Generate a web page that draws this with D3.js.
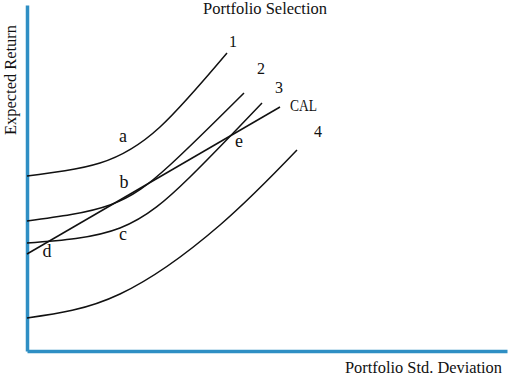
<!DOCTYPE html>
<html>
<head>
<meta charset="utf-8">
<script src="https://cdn.jsdelivr.net/npm/d3@7"></script>
<style>
  body { margin: 0; background: #fff; }
  svg text { font-family: "Liberation Serif", "DejaVu Serif", serif; fill: #111; }
</style>
</head>
<body>
<svg id="canvas"></svg>
<script>
//--chart values (std. deviation, expected return)
let curve1 = [[0, 17.5], [7.3, 18.8], [13.3, 22.4], [20, 29.8]];
let curve2 = [[0, 13], [8.3, 14.6], [14.3, 18.6], [21.7, 25.8]];
let curve3 = [[0, 10.8], [9.3, 12.3], [16.3, 17.4], [23.5, 24.8]];
let curve4 = [[0, 3.3], [9.3, 5.7], [19.3, 12.6], [27, 20.1]];
let cal = [[0, 9.7], [25.3, 24.4]];

let curveNames = ['1', '2', '3', '4'];
let pointNames = ['a', 'b', 'c', 'd', 'e'];
let pointSpots = [[9.6, 20.9], [9.7, 16.3], [9.6, 11.1], [2, 9.4], [21.2, 20.4]];
let curveLabelSpots = [[20.6, 30.4], [23.4, 27.7], [25.2, 25.8], [29.1, 21.4]];
//--

let width = 511;
let height = 378;

let canvas = d3.select('#canvas')
canvas.attr('width', width)
canvas.attr('height', height)

let xScale = d3.scaleLinear().domain([0, 48]).range([27, 507])
let yScale = d3.scaleLinear().domain([0, 34.6]).range([351, 5])

//--axes, no ticks, just the blue lines
let xAxis = d3.axisBottom(xScale).tickValues([]).tickSizeOuter(0)
let yAxis = d3.axisLeft(yScale).tickValues([]).tickSizeOuter(0)

let axisColor = '#2f8fc4'

canvas.append('g')
      .attr('transform', 'translate(0,' + yScale(0) + ')')
      .call(xAxis)
      .select('.domain')
      .attr('stroke', axisColor)
      .attr('stroke-width', 3.5)

canvas.append('g')
      .attr('transform', 'translate(' + xScale(0) + ',0)')
      .call(yAxis)
      .select('.domain')
      .attr('stroke', axisColor)
      .attr('stroke-width', 3.5)

//--curves
let line = d3.line()
             .x(d => xScale(d[0]))
             .y(d => yScale(d[1]))
             .curve(d3.curveNatural)

canvas.selectAll('path.curve')
      .data([curve1, curve2, curve3, curve4, cal])
      .enter()
      .append('path')
      .attr('class', 'curve')
      .attr('d', d => line(d))
      .attr('fill', 'none')
      .attr('stroke', '#111')
      .attr('stroke-width', 1.5)

//--labels
canvas.selectAll('text.curve-label')
      .data(curveNames)
      .enter()
      .append('text')
      .attr('class', 'curve-label')
      .attr('x', (d, i) => xScale(curveLabelSpots[i][0]))
      .attr('y', (d, i) => yScale(curveLabelSpots[i][1]))
      .attr('text-anchor', 'middle')
      .attr('font-size', 16)
      .text(d => d)

canvas.append('text')
      .attr('x', xScale(cal[1][0]) + 10)
      .attr('y', yScale(cal[1][1]) + 4)
      .attr('font-size', 16)
      .attr('textLength', 27)
      .attr('lengthAdjust', 'spacingAndGlyphs')
      .text('CAL')

canvas.selectAll('text.point-label')
      .data(pointNames)
      .enter()
      .append('text')
      .attr('class', 'point-label')
      .attr('x', (d, i) => xScale(pointSpots[i][0]))
      .attr('y', (d, i) => yScale(pointSpots[i][1]))
      .attr('text-anchor', 'middle')
      .attr('font-size', 18)
      .text(d => d)

canvas.append('text')
      .attr('x', 265)
      .attr('y', 13.5)
      .attr('text-anchor', 'middle')
      .attr('font-size', 16)
      .attr('textLength', 124)
      .attr('lengthAdjust', 'spacingAndGlyphs')
      .text('Portfolio Selection')

canvas.append('text')
      .attr('x', 502)
      .attr('y', 373)
      .attr('text-anchor', 'end')
      .attr('font-size', 16)
      .attr('textLength', 157)
      .attr('lengthAdjust', 'spacingAndGlyphs')
      .text('Portfolio Std. Deviation')

canvas.append('text')
      .attr('transform', 'translate(16,80) rotate(-90)')
      .attr('text-anchor', 'middle')
      .attr('font-size', 16)
      .attr('textLength', 110)
      .attr('lengthAdjust', 'spacingAndGlyphs')
      .text('Expected Return')
</script>
</body>
</html>
